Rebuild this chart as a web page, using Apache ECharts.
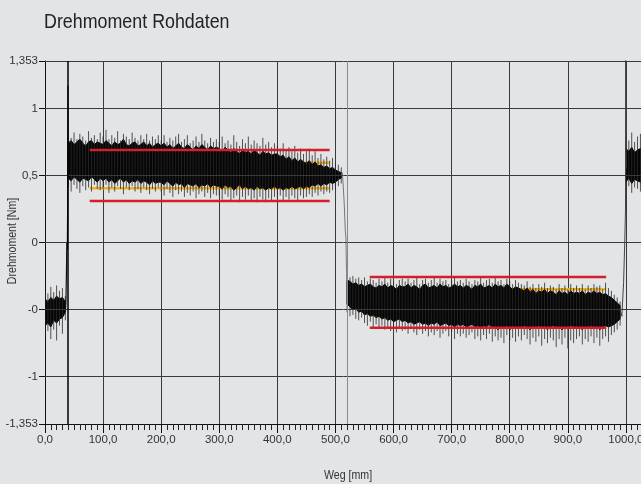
<!DOCTYPE html>
<html><head><meta charset="utf-8">
<script src="https://cdn.jsdelivr.net/npm/echarts@6/dist/echarts.min.js"></script>
<style>html,body{margin:0;padding:0;background:#e3e4e6}#c{width:641px;height:484px}</style>
</head><body><div id="c"></div>
<script>
// ---------- data ----------
const chartTitle = 'Drehmoment Rohdaten';
const xName = 'Weg [mm]';
const yName = 'Drehmoment [Nm]';
const yTickValues = [-1.353, -1, -0.5, 0, 0.5, 1, 1.353];
const yTickLabels = ['-1,353', '-1', '-0', '0', '0,5', '1', '1,353'];
const yGridValues = [-1, -0.5, 0, 0.5, 1, 1.353];

// segment A (before start)
const segA_weg    = [0,5,10,15,20,25,30,35];
const segA_coreHi = [-0.42,-0.44,-0.41,-0.43,-0.40,-0.42,-0.41,-0.44];
const segA_coreLo = [-0.62,-0.60,-0.63,-0.58,-0.60,-0.57,-0.56,-0.52];
const segA_peakHi = [-0.36,-0.38,-0.33,-0.37,-0.32,-0.36,-0.34,-0.40];
const segA_peakLo = [-0.70,-0.66,-0.72,-0.65,-0.73,-0.62,-0.68,-0.58];

// segment B (forward run)
const segB_weg = [40,45,50,55,60,65,70,75,80,85,90,95,100,105,110,115,120,125,130,135,140,145,150,155,160,165,170,175,180,185,190,195,200,205,210,215,220,225,230,235,240,245,250,255,260,265,270,275,280,285,290,295,300,305,310,315,320,325,330,335,340,345,350,355,360,365,370,375,380,385,390,395,400,405,410,415,420,425,430,435,440,445,450,455,460,465,470,475,480,485,490,495,500,505,510];
const segB_coreHi = [0.74,0.76,0.73,0.75,0.77,0.74,0.72,0.75,0.76,0.73,0.75,0.74,
 0.73,0.76,0.74,0.72,0.75,0.73,0.74,0.77,0.73,0.72,0.74,0.75,0.72,0.73,0.75,0.72,0.74,0.71,0.73,0.74,
 0.72,0.74,0.71,0.73,0.70,0.72,0.74,0.71,0.70,0.73,0.71,0.69,0.72,0.70,0.73,0.71,0.69,0.72,0.70,0.71,
 0.70,0.68,0.71,0.69,0.67,0.70,0.68,0.66,0.69,0.67,0.68,0.66,0.69,0.67,0.65,0.68,0.66,0.67,0.65,0.66,
 0.66,0.64,0.65,0.62,0.64,0.61,0.63,0.60,0.62,0.60,0.59,0.61,0.58,0.60,0.57,0.58,0.56,0.57,0.55,0.56,
 0.54,0.53,0.52];
const segB_coreLo = [0.48,0.46,0.49,0.47,0.45,0.48,0.47,0.46,0.49,0.47,0.45,0.48,
 0.46,0.48,0.45,0.47,0.44,0.46,0.48,0.45,0.47,0.44,0.46,0.45,0.47,0.44,0.46,0.45,0.43,0.46,0.44,0.45,
 0.45,0.43,0.46,0.44,0.42,0.45,0.43,0.44,0.41,0.44,0.43,0.42,0.44,0.41,0.43,0.42,0.44,0.41,0.43,0.42,
 0.42,0.40,0.43,0.41,0.42,0.39,0.41,0.43,0.40,0.42,0.40,0.41,0.39,0.42,0.40,0.41,0.39,0.41,0.40,0.42,
 0.40,0.41,0.39,0.41,0.40,0.42,0.40,0.41,0.42,0.40,0.42,0.41,0.43,0.42,0.44,0.42,0.44,0.43,0.45,0.44,
 0.45,0.47,0.48];
const segB_peakHi = [0.80,0.78,0.82,0.77,0.81,0.79,0.76,0.83,0.78,0.80,0.77,0.82,
 0.79,0.84,0.77,0.80,0.78,0.83,0.76,0.81,0.79,0.77,0.82,0.78,0.76,0.80,0.77,0.81,0.76,0.79,0.77,0.80,
 0.76,0.80,0.75,0.78,0.76,0.79,0.81,0.75,0.77,0.80,0.74,0.76,0.79,0.75,0.81,0.76,0.74,0.78,0.75,0.77,
 0.75,0.79,0.74,0.76,0.73,0.80,0.75,0.72,0.77,0.74,0.79,0.73,0.76,0.74,0.72,0.78,0.73,0.75,0.71,0.74,
 0.72,0.70,0.74,0.69,0.71,0.68,0.72,0.67,0.70,0.66,0.68,0.70,0.65,0.68,0.63,0.66,0.62,0.64,0.61,0.63,
 0.59,0.58,0.56];
const segB_peakLo = [0.41,0.38,0.43,0.40,0.37,0.42,0.39,0.41,0.38,0.43,0.40,0.39,
 0.40,0.43,0.37,0.41,0.38,0.42,0.40,0.36,0.41,0.39,0.42,0.38,0.40,0.37,0.41,0.39,0.36,0.40,0.38,0.41,
 0.38,0.35,0.40,0.37,0.34,0.39,0.36,0.38,0.34,0.37,0.35,0.38,0.33,0.36,0.38,0.34,0.37,0.33,0.36,0.35,
 0.35,0.32,0.36,0.34,0.31,0.33,0.35,0.30,0.34,0.32,0.35,0.31,0.33,0.30,0.34,0.32,0.30,0.33,0.31,0.34,
 0.33,0.35,0.31,0.34,0.32,0.35,0.33,0.31,0.35,0.33,0.34,0.36,0.34,0.37,0.35,0.38,0.36,0.38,0.37,0.39,
 0.40,0.42,0.44];

// segment C (return run)
const segC_weg = [520,525,530,535,540,545,550,555,560,565,570,575,580,585,590,595,600,605,610,615,620,625,630,635,640,645,650,655,660,665,670,675,680,685,690,695,700,705,710,715,720,725,730,735,740,745,750,755,760,765,770,775,780,785,790,795,800,805,810,815,820,825,830,835,840,845,850,855,860,865,870,875,880,885,890,895,900,905,910,915,920,925,930,935,940,945,950,955,960,965,970,975,980,985,990];
const segC_coreHi = [-0.28,-0.29,-0.31,-0.30,-0.32,-0.31,-0.33,-0.32,-0.31,-0.33,-0.34,-0.32,-0.33,-0.31,-0.34,-0.32,-0.33,-0.35,-0.32,-0.33,
 -0.33,-0.31,-0.34,-0.32,-0.33,-0.35,-0.32,-0.31,-0.34,-0.33,-0.32,-0.34,-0.31,-0.33,-0.32,-0.34,-0.33,-0.31,-0.33,-0.32,
 -0.34,-0.32,-0.33,-0.35,-0.32,-0.33,-0.31,-0.34,-0.33,-0.32,-0.34,-0.31,-0.33,-0.32,-0.34,-0.31,-0.33,-0.35,-0.33,-0.34,
 -0.35,-0.36,-0.34,-0.37,-0.35,-0.38,-0.36,-0.37,-0.35,-0.38,-0.36,-0.37,-0.39,-0.36,-0.38,-0.37,-0.39,-0.36,-0.38,-0.37,
 -0.38,-0.36,-0.39,-0.37,-0.38,-0.36,-0.38,-0.37,-0.39,-0.38,-0.40,-0.41,-0.43,-0.45,-0.47];
const segC_coreLo = [-0.46,-0.48,-0.50,-0.49,-0.52,-0.51,-0.54,-0.53,-0.55,-0.54,-0.56,-0.55,-0.57,-0.56,-0.58,-0.57,-0.59,-0.58,-0.57,-0.59,
 -0.58,-0.60,-0.59,-0.61,-0.60,-0.59,-0.61,-0.60,-0.62,-0.60,-0.61,-0.59,-0.62,-0.61,-0.60,-0.62,-0.61,-0.63,-0.61,-0.62,
 -0.61,-0.63,-0.62,-0.61,-0.63,-0.62,-0.64,-0.62,-0.63,-0.61,-0.64,-0.63,-0.65,-0.63,-0.64,-0.62,-0.65,-0.63,-0.64,-0.63,
 -0.64,-0.62,-0.63,-0.65,-0.63,-0.64,-0.62,-0.64,-0.63,-0.65,-0.63,-0.62,-0.64,-0.63,-0.65,-0.63,-0.64,-0.62,-0.63,-0.64,
 -0.63,-0.65,-0.63,-0.64,-0.62,-0.64,-0.63,-0.65,-0.63,-0.62,-0.63,-0.62,-0.61,-0.59,-0.57];
const segC_peakHi = [-0.24,-0.26,-0.25,-0.27,-0.26,-0.28,-0.26,-0.29,-0.27,-0.28,-0.30,-0.27,-0.29,-0.26,-0.30,-0.27,-0.29,-0.31,-0.28,-0.27,
 -0.29,-0.27,-0.30,-0.28,-0.26,-0.31,-0.28,-0.27,-0.30,-0.28,-0.26,-0.30,-0.27,-0.29,-0.28,-0.31,-0.28,-0.26,-0.29,-0.28,
 -0.30,-0.27,-0.29,-0.31,-0.28,-0.29,-0.26,-0.30,-0.28,-0.27,-0.30,-0.26,-0.29,-0.28,-0.31,-0.27,-0.29,-0.31,-0.28,-0.30,
 -0.31,-0.32,-0.29,-0.33,-0.31,-0.34,-0.31,-0.33,-0.30,-0.34,-0.32,-0.33,-0.35,-0.31,-0.34,-0.32,-0.35,-0.31,-0.34,-0.32,
 -0.34,-0.31,-0.35,-0.32,-0.34,-0.31,-0.33,-0.32,-0.35,-0.30,-0.34,-0.36,-0.39,-0.41,-0.44];
const segC_peakLo = [-0.52,-0.55,-0.54,-0.57,-0.58,-0.56,-0.60,-0.62,-0.59,-0.63,-0.61,-0.64,-0.62,-0.65,-0.63,-0.66,-0.64,-0.67,-0.63,-0.66,
 -0.65,-0.68,-0.64,-0.67,-0.69,-0.65,-0.68,-0.66,-0.70,-0.67,-0.69,-0.66,-0.71,-0.68,-0.66,-0.70,-0.67,-0.72,-0.68,-0.70,
 -0.68,-0.71,-0.69,-0.67,-0.72,-0.70,-0.73,-0.69,-0.72,-0.68,-0.74,-0.70,-0.73,-0.71,-0.75,-0.69,-0.73,-0.71,-0.74,-0.70,
 -0.73,-0.69,-0.72,-0.76,-0.71,-0.74,-0.70,-0.77,-0.72,-0.75,-0.71,-0.73,-0.78,-0.72,-0.76,-0.71,-0.79,-0.73,-0.75,-0.72,
 -0.70,-0.76,-0.72,-0.74,-0.70,-0.75,-0.71,-0.77,-0.72,-0.70,-0.74,-0.69,-0.67,-0.65,-0.62];

// segment D (next forward run, cut at the right edge)
const segD_weg    = [1000,1005,1010,1015,1020,1025,1030];
const segD_coreHi = [0.70,0.68,0.71,0.67,0.69,0.70,0.68];
const segD_coreLo = [0.45,0.48,0.44,0.47,0.46,0.45,0.47];
const segD_peakHi = [0.80,0.76,0.82,0.75,0.79,0.81,0.77];
const segD_peakLo = [0.39,0.42,0.37,0.41,0.40,0.38,0.41];

// transitions between the runs
const trans1 = [[35,-0.52],[36,-0.45],[37,-0.2],[37.5,0],[38.5,-0.05],[39,0.3],[39.5,1.17],[40,0.6]];
const trans2 = [[510,0.5],[512,0.52],[513,0.45],[515,0.3],[517,0.08],[518,0.04],[519,-0.2],[520,-0.3]];
const trans3 = [[990,-0.5],[993,-0.55],[996,-0.3],[998,0.0],[999.3,0.25],[999.6,1.45],[1000.2,0.7],[1000.5,0.55]];

// limit lines
const limitX1 = [77, 490];
const limitX2 = [559, 966];
const red1 = [0.69, 0.31];
const orange1 = [0.595, 0.405];
const red2 = [-0.257, -0.636];
const orange2 = [-0.348, -0.545];

// cursor lines
const cursorBlack = 39.4;
const cursorGray = 520.6;

// ---------- chart ----------
const FONT = "'Liberation Sans', Arial, sans-serif";
const segments = [
  {weg: segA_weg, coreHi: segA_coreHi, coreLo: segA_coreLo, peakHi: segA_peakHi, peakLo: segA_peakLo},
  {weg: segB_weg, coreHi: segB_coreHi, coreLo: segB_coreLo, peakHi: segB_peakHi, peakLo: segB_peakLo},
  {weg: segC_weg, coreHi: segC_coreHi, coreLo: segC_coreLo, peakHi: segC_peakHi, peakLo: segC_peakLo},
  {weg: segD_weg, coreHi: segD_coreHi, coreLo: segD_coreLo, peakHi: segD_peakHi, peakLo: segD_peakLo}
];

const spikeData = [];
segments.forEach(s => s.weg.forEach((x, i) => spikeData.push([x, s.peakLo[i], s.peakHi[i]])));

function levelSeries(xs, lvl, color, z) {
  return {type: 'line', data: [[xs[0], lvl], [xs[1], lvl]], symbol: 'none', z: z,
    lineStyle: {color: color, width: 2.5}, silent: true, animation: false};
}

const chart = echarts.init(document.getElementById('c'), null, {renderer: 'canvas'});
chart.setOption({
  backgroundColor: '#e3e4e6',
  animation: false,
  grid: {left: 45, top: 61, height: 363, width: 639, outerBoundsMode: 'none', containLabel: false},
  xAxis: {
    type: 'value', min: 0, max: 1100, interval: 100,
    axisLine: {onZero: false, lineStyle: {color: '#111', width: 1}},
    axisTick: {length: 9, lineStyle: {color: '#111'}},
    minorTick: {show: true, splitNumber: 10, length: 6, lineStyle: {color: '#222'}},
    splitLine: {show: true, lineStyle: {color: '#3a3a3a', width: 1}},
    axisLabel: {margin: 10, fontFamily: FONT, fontSize: 11.5, color: '#333',
      formatter: v => v.toFixed(1).replace('.', ',')}
  },
  yAxis: {
    type: 'value', min: -1.353, max: 1.353,
    axisLine: {show: true, onZero: false, lineStyle: {color: '#111'}},
    axisTick: {show: true, length: 6, customValues: yTickValues, lineStyle: {color: '#111'}},
    axisLabel: {margin: 7, fontFamily: FONT, fontSize: 11.5, color: '#333', customValues: yTickValues,
      formatter: v => { const i = yTickValues.findIndex(t => Math.abs(t - v) < 1e-6); return i >= 0 ? yTickLabels[i] : ''; }},
    splitLine: {show: false}
  },
  graphic: [
    {type: 'text', x: 44, y: 12, scaleX: 0.85, scaleY: 1,
      style: {text: chartTitle, fontFamily: FONT, fontSize: 21, fill: '#222'}},
    {type: 'text', x: 348, y: 469, scaleX: 0.85, scaleY: 1,
      style: {text: xName, fontFamily: FONT, fontSize: 12.5, fill: '#333', align: 'center'}},
    {type: 'text', x: 13, y: 241, rotation: Math.PI / 2, scaleX: 0.88, scaleY: 1,
      style: {text: yName, fontFamily: FONT, fontSize: 12, fill: '#333', align: 'center', verticalAlign: 'middle'}}
  ],
  series: [
    {type: 'line', data: [], z: 1, silent: true,
      markLine: {symbol: 'none', silent: true, animation: false, label: {show: false},
        lineStyle: {color: '#3a3a3a', width: 1, type: 'solid'},
        data: yGridValues.map(v => ({yAxis: v}))}},
    levelSeries(limitX1, orange1[0], '#f2b01e', 2),
    levelSeries(limitX1, orange1[1], '#f2b01e', 2),
    levelSeries(limitX2, orange2[0], '#f2b01e', 2),
    levelSeries(limitX2, orange2[1], '#f2b01e', 2),
    {type: 'custom', z: 3, silent: true, clip: true,
      data: segments.map((s, i) => [s.weg[0], s.coreHi[0], i]),
      renderItem: (params, api) => {
        const s = segments[api.value(2)];
        const pts = [];
        s.weg.forEach((x, i) => pts.push(api.coord([x, s.coreHi[i]])));
        for (let i = s.weg.length - 1; i >= 0; i--) pts.push(api.coord([s.weg[i], s.coreLo[i]]));
        return {type: 'polygon', shape: {points: pts}, style: {fill: '#050505', stroke: '#050505', lineWidth: 1}};
      }},
    {type: 'custom', z: 3, silent: true, clip: true,
      data: spikeData,
      renderItem: (params, api) => {
        const a = api.coord([api.value(0), api.value(1)]);
        const b = api.coord([api.value(0), api.value(2)]);
        return {type: 'line', shape: {x1: a[0], y1: a[1], x2: b[0], y2: b[1]},
          style: {stroke: '#2a2a2a', lineWidth: 0.8}};
      }},
    {type: 'line', data: trans1, symbol: 'none', z: 3, lineStyle: {color: '#111', width: 1.2}},
    {type: 'line', data: trans2, symbol: 'none', z: 3, lineStyle: {color: '#777', width: 1}},
    {type: 'line', data: trans3, symbol: 'none', z: 3, clip: true, lineStyle: {color: '#444', width: 1}},
    levelSeries(limitX1, red1[0], '#d41f2a', 4),
    levelSeries(limitX1, red1[1], '#d41f2a', 4),
    levelSeries(limitX2, red2[0], '#d41f2a', 4),
    levelSeries(limitX2, red2[1], '#d41f2a', 4),
    {type: 'line', data: [], z: 5, silent: true,
      markLine: {symbol: 'none', silent: true, animation: false, label: {show: false},
        data: [
          {xAxis: cursorBlack, lineStyle: {color: '#000', width: 1.5, type: 'solid'}},
          {xAxis: cursorGray, lineStyle: {color: '#8a8a8a', width: 1, type: 'solid'}}
        ]}}
  ]
});
</script></body></html>
